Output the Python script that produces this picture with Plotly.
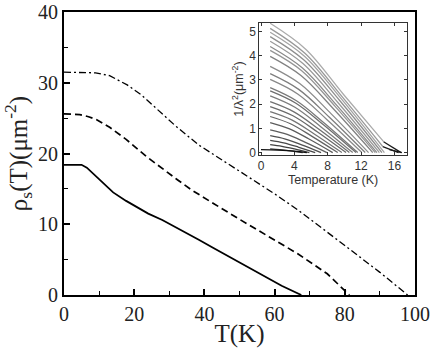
import plotly.graph_objects as go

# ---- main panel data: superfluid density rho_s(T) ----
T_solid = [0, 5, 6.5, 8, 11, 14, 17.7, 21, 24, 28, 33, 38.4, 42.7, 50, 57.2, 62, 67.6]
rho_solid = [18.4, 18.4, 18.0, 17.3, 15.8, 14.5, 13.3, 12.3, 11.5, 10.6, 9.3, 7.8, 6.6, 4.6, 2.6, 1.3, 0]

T_dash = [0, 4.5, 7, 9.2, 13, 17.7, 23.4, 27.1, 32, 36.5, 40.3, 42.7, 50, 60, 66.7, 75, 81.3]
rho_dash = [25.6, 25.5, 25.2, 24.8, 23.7, 22.0, 19.6, 18.2, 16.4, 14.8, 13.6, 12.9, 10.7, 7.8, 5.8, 3.0, 0]

T_dashdot = [0, 5, 9, 13, 18, 22, 27, 32, 38.4, 42.7, 50, 60, 66.7, 80, 90, 97.9]
rho_dashdot = [31.5, 31.5, 31.4, 31.0, 29.7, 28.3, 26.1, 23.8, 21.2, 19.8, 17.5, 14.3, 12.0, 7.0, 3.2, 0]

x_ticks = [0, 20, 40, 60, 80, 100]
y_ticks = [0, 10, 20, 30, 40]

# ---- inset data: 1/lambda^2 vs temperature, family of curves ----
inset_T = [
    [1.1, 5.36, 9.90, 14.7],
    [1.1, 5.27, 9.72, 14.6],
    [1.1, 5.21, 9.59, 14.8],
    [1.1, 5.12, 9.41, 14.5],
    [1.1, 5.03, 9.22, 14.2],
    [1.1, 4.94, 9.04, 13.9],
    [1.1, 4.88, 8.91, 13.7],
    [1.1, 4.79, 8.73, 13.4],
    [1.1, 4.64, 8.42, 12.9],
    [1.1, 4.52, 8.17, 12.5],
    [1.1, 4.40, 7.92, 12.1],
    [1.1, 4.25, 7.61, 11.6],
    [1.1, 4.19, 7.49, 11.4],
    [1.1, 4.07, 7.24, 11.0],
    [1.1, 3.95, 6.99, 10.6],
    [1.1, 3.83, 6.74, 10.2],
    [1.1, 3.68, 6.43, 9.7],
    [1.1, 3.53, 6.12, 9.2],
    [1.1, 3.35, 5.75, 8.6],
    [1.1, 3.14, 5.32, 7.9],
    [1.1, 2.93, 4.88, 7.2],
    [1.1, 2.72, 4.45, 6.5],
    [1.1, 2.51, 4.01, 5.8],
    [1.1, 2.27, 3.52, 5.0],
    [0.0, 2.0, 4.0, 5.5],
]
inset_v = [
    [5.34, 4.27, 2.40, 0.45],
    [5.13, 4.10, 2.31, 0.25],
    [4.97, 3.98, 2.24, 0.0],
    [4.79, 3.83, 2.16, 0.0],
    [4.60, 3.68, 2.07, 0.0],
    [4.38, 3.50, 1.97, 0.0],
    [4.22, 3.38, 1.90, 0.0],
    [3.97, 3.18, 1.79, 0.0],
    [3.56, 2.85, 1.60, 0.0],
    [3.26, 2.61, 1.47, 0.0],
    [3.02, 2.42, 1.36, 0.0],
    [2.68, 2.14, 1.21, 0.0],
    [2.55, 2.04, 1.15, 0.0],
    [2.34, 1.87, 1.05, 0.0],
    [2.10, 1.68, 0.95, 0.0],
    [1.90, 1.52, 0.86, 0.0],
    [1.69, 1.35, 0.76, 0.0],
    [1.49, 1.19, 0.67, 0.0],
    [1.24, 0.99, 0.56, 0.0],
    [0.94, 0.75, 0.42, 0.0],
    [0.70, 0.56, 0.32, 0.0],
    [0.50, 0.40, 0.23, 0.0],
    [0.33, 0.26, 0.15, 0.0],
    [0.15, 0.12, 0.07, 0.0],
    [0.12, 0.10, 0.06, 0.0],
]
inset_colors = [
    "#ababab", "#999999", "#a3a3a3", "#8e8e8e", "#9a9a9a", "#8a8a8a",
    "#959595", "#828282", "#8c8c8c", "#7e7e7e", "#888888", "#7a7a7a",
    "#6e6e6e", "#7c7c7c", "#707070", "#6a6a6a", "#747474", "#646464",
    "#5c5c5c", "#5e5e5e", "#505050", "#484848", "#404040", "#363636",
    "#111111",
]
tail_T = [[14.7, 16.8], [14.6, 16.5], [15.4, 16.9]]
tail_v = [[0.45, 0.0], [0.25, 0.0], [0.12, 0.0]]
inset_x_ticks = [0, 4, 8, 12, 16]
inset_y_ticks = [0, 1, 2, 3, 4, 5]

fig = go.Figure()

fig.add_trace(go.Scatter(x=T_solid, y=rho_solid, mode="lines",
                         line=dict(color="black", width=1.8), xaxis="x", yaxis="y"))
fig.add_trace(go.Scatter(x=T_dash, y=rho_dash, mode="lines",
                         line=dict(color="black", width=1.7, dash="7px,4px"), xaxis="x", yaxis="y"))
fig.add_trace(go.Scatter(x=T_dashdot, y=rho_dashdot, mode="lines",
                         line=dict(color="black", width=1.3, dash="7px,3px,2px,3px"), xaxis="x", yaxis="y"))

for Ts, vs, c in zip(inset_T, inset_v, inset_colors):
    fig.add_trace(go.Scatter(x=Ts, y=vs, mode="lines", line_shape="spline",
                             line=dict(color=c, width=1.3), xaxis="x2", yaxis="y2"))
for Ts, vs in zip(tail_T, tail_v):
    fig.add_trace(go.Scatter(x=Ts, y=vs, mode="lines",
                             line=dict(color="#1a1a1a", width=1.3), xaxis="x2", yaxis="y2"))

serif = "Liberation Serif, Times New Roman, serif"
sans = "Liberation Sans, Arial, sans-serif"

fig.update_layout(
    width=430, height=348,
    margin=dict(l=64, r=15, t=12, b=53, autoexpand=False),
    paper_bgcolor="white", plot_bgcolor="white",
    showlegend=False,
    xaxis=dict(
        range=[0, 100], tickvals=x_ticks, ticks="inside", ticklen=6, tickwidth=1.5,
        tickcolor="black", showline=True, linecolor="black", linewidth=1.8, mirror=True,
        showgrid=False, zeroline=False, automargin=False, ticklabeloverflow="allow",
        minor=dict(dtick=10, ticks="inside", ticklen=4, tickwidth=1.2, tickcolor="black", showgrid=False),
        tickfont=dict(family=serif, size=20, color="#222"),
        title=dict(text="T(K)", font=dict(family=serif, size=25, color="#222"), standoff=2),
    ),
    yaxis=dict(
        range=[0, 40], tickvals=y_ticks, ticks="inside", ticklen=6, tickwidth=1.5,
        tickcolor="black", showline=True, linecolor="black", linewidth=1.8, mirror=True,
        showgrid=False, zeroline=False, automargin=False, ticklabeloverflow="allow",
        minor=dict(dtick=5, ticks="inside", ticklen=4, tickwidth=1.2, tickcolor="black", showgrid=False),
        tickfont=dict(family=serif, size=20, color="#222"),
        title=dict(text="ρ<sub>s</sub>(T)(μm<sup>-2</sup>)", font=dict(family=serif, size=25, color="#222"),
                   standoff=4),
    ),
    xaxis2=dict(
        domain=[0.5565, 0.977], anchor="y2", range=[-0.2, 17.5], tickvals=inset_x_ticks,
        ticks="inside", ticklen=3, tickwidth=1, tickcolor="#333", showline=True,
        linecolor="#333", linewidth=1, mirror="ticks", showgrid=False, zeroline=False,
        automargin=False, ticklabeloverflow="allow",
        tickfont=dict(family=sans, size=12, color="#333"),
        title=dict(text="Temperature (K)", font=dict(family=sans, size=12.5, color="#333"), standoff=2),
    ),
    yaxis2=dict(
        domain=[0.4947, 0.961], anchor="x2", range=[-0.1, 5.35], tickvals=inset_y_ticks,
        ticks="inside", ticklen=3, tickwidth=1, tickcolor="#333", showline=True,
        linecolor="#333", linewidth=1, mirror="ticks", showgrid=False, zeroline=False,
        automargin=False, ticklabeloverflow="allow",
        tickfont=dict(family=sans, size=12, color="#333"),
        title=dict(text="1/λ<sup>2</sup>(μm<sup>-2</sup>)", font=dict(family=sans, size=12.5, color="#333"),
                   standoff=2),
    ),
)

fig.write_html("out.html")
